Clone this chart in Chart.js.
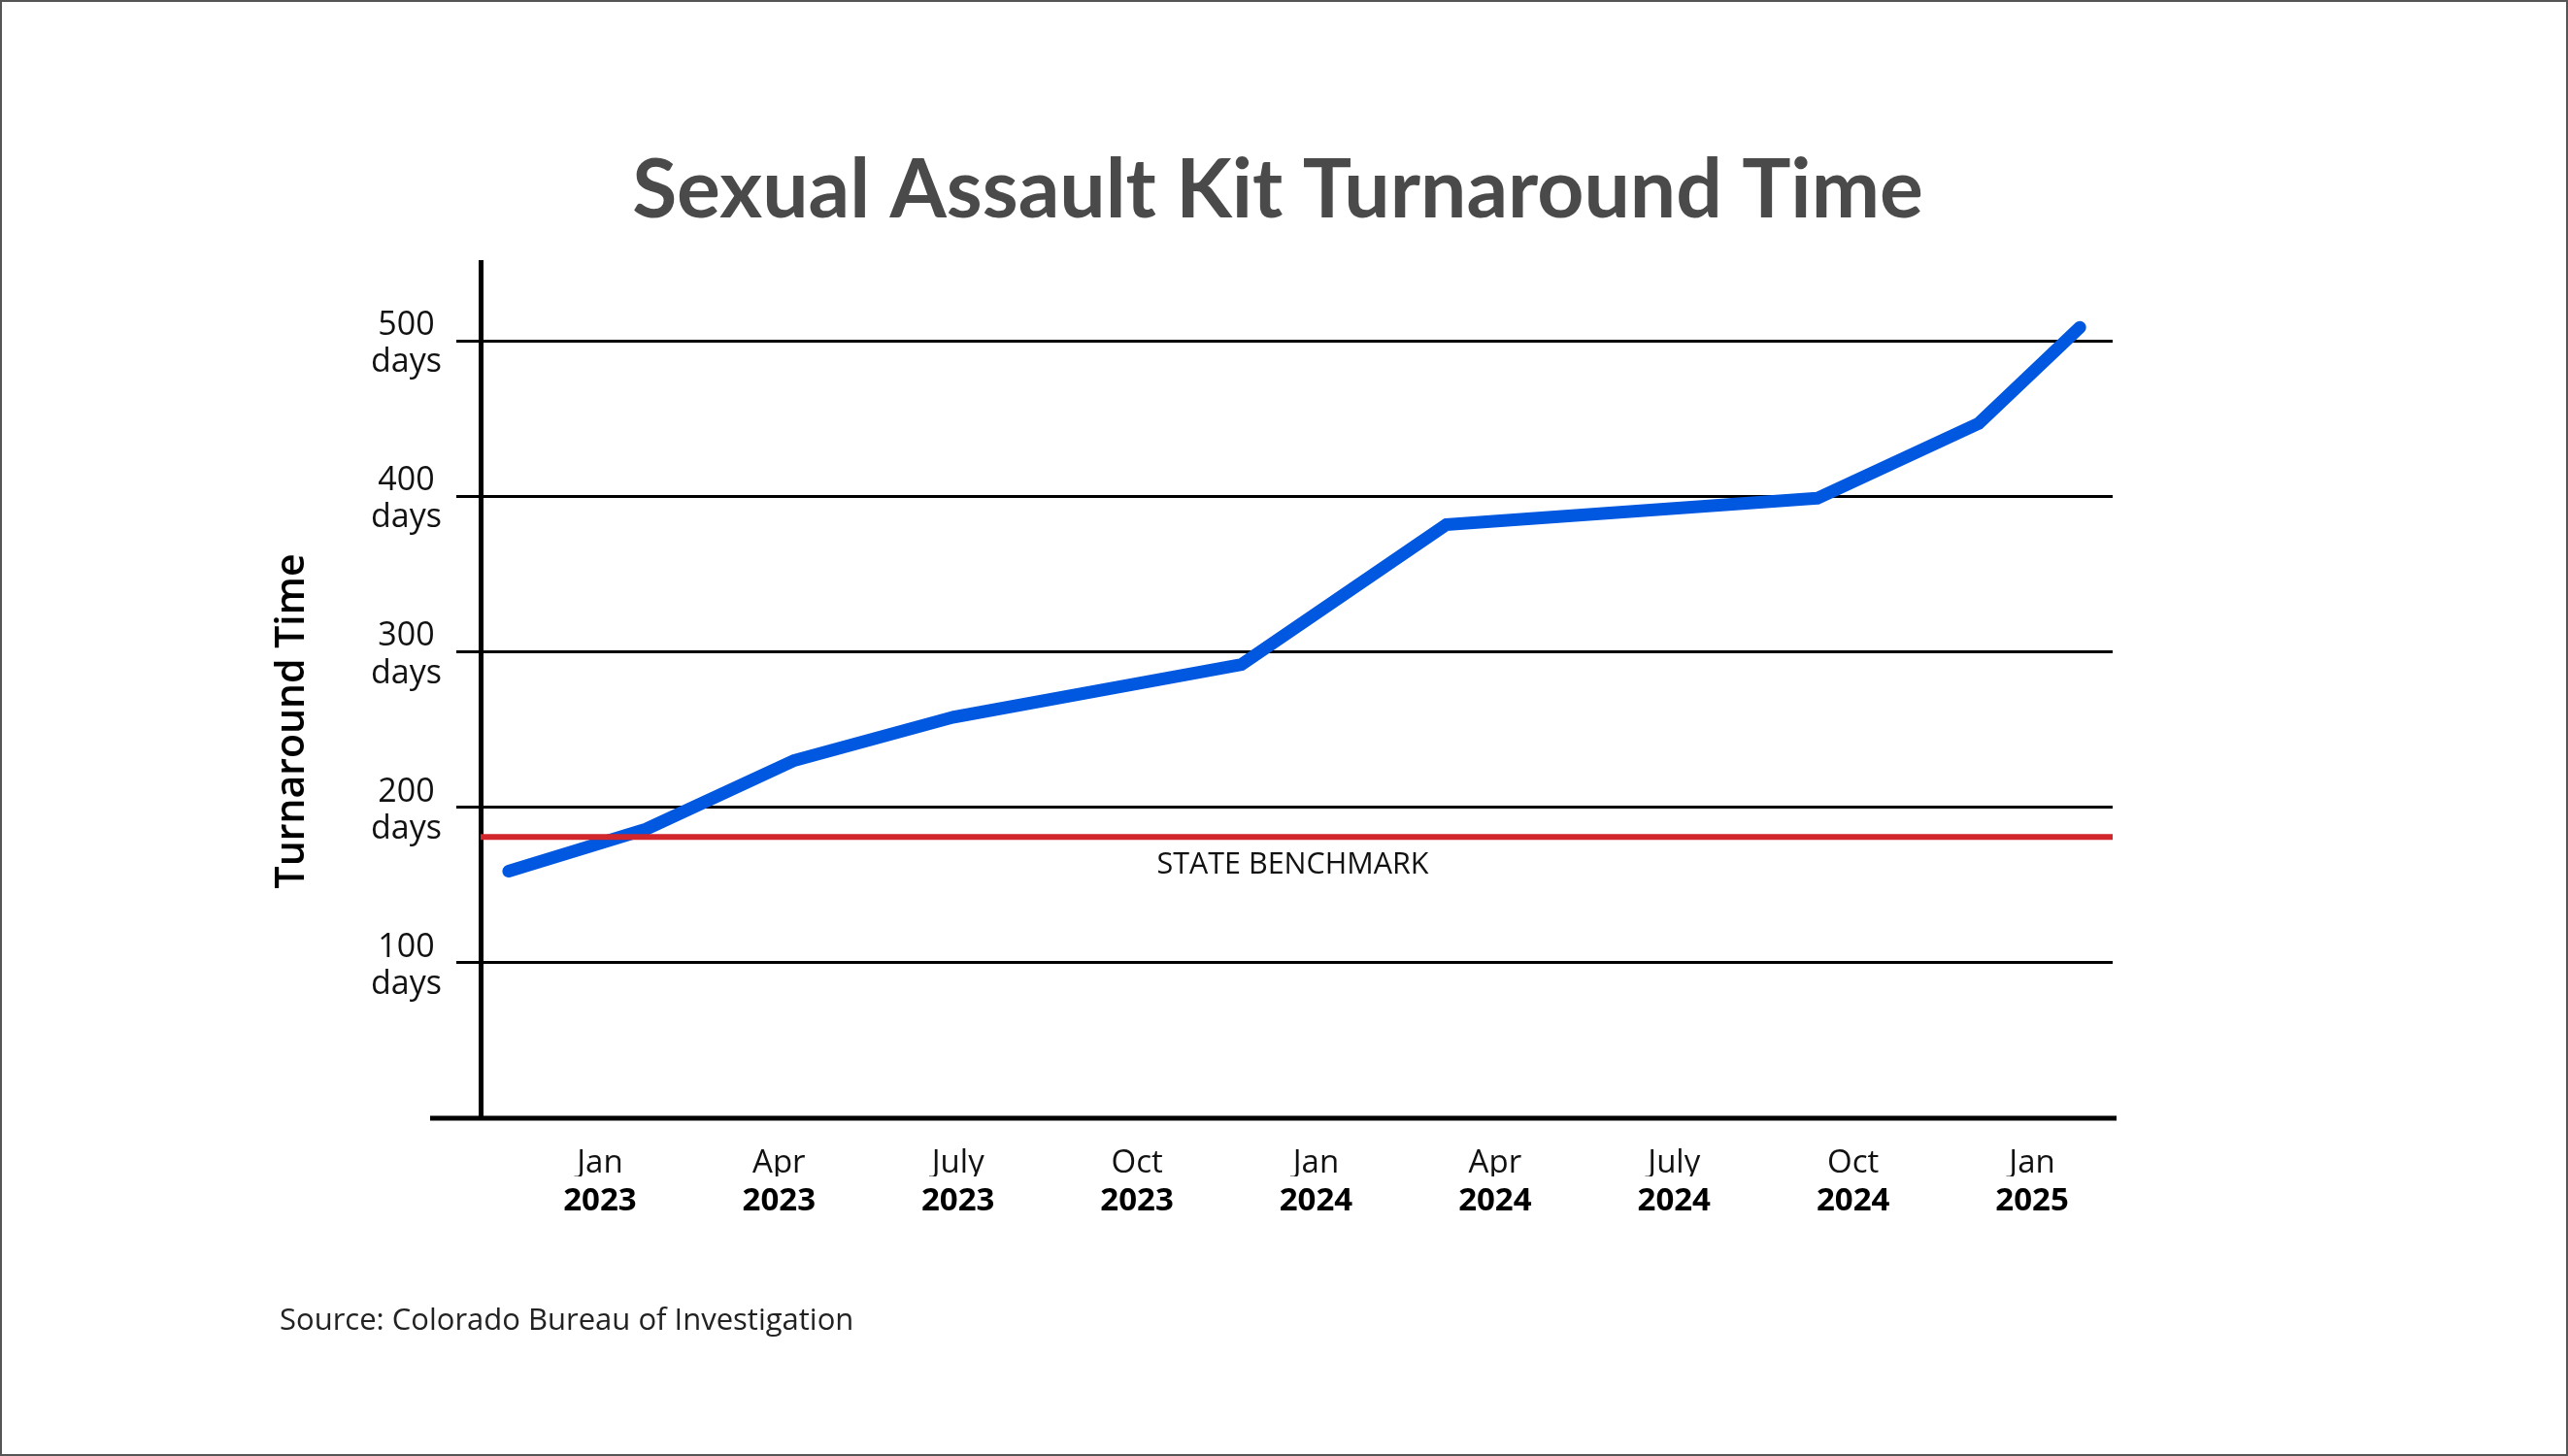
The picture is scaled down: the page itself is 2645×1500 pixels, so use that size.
<!DOCTYPE html>
<html>
<head>
<meta charset="utf-8">
<script src="https://cdn.jsdelivr.net/npm/chart.js@4.4.1/dist/chart.umd.min.js"></script>
<style>
  html, body { margin: 0; padding: 0; background: #ffffff; }
  #wrap { width: 2645px; height: 1500px; }
  canvas { display: block; }
</style>
</head>
<body>
<div id="wrap"><canvas id="c" width="2645" height="1500"></canvas></div>
<script>
// ---- Data (x = months since Jan 2023) ----
const pointMonths = [-1.53, 0.77, 3.24, 5.91, 10.75, 14.18, 20.4, 23.1, 24.8];
const turnaroundDays = [159, 186, 230, 258, 292, 382, 399, 447, 509];
const benchmarkDays = 181;
const tickMonths = [0, 3, 6, 9, 12, 15, 18, 21, 24];
const monthLabels = ['Jan', 'Apr', 'July', 'Oct', 'Jan', 'Apr', 'July', 'Oct', 'Jan'];
const yearLabels = ['2023', '2023', '2023', '2023', '2024', '2024', '2024', '2024', '2025'];
const yTicks = [100, 200, 300, 400, 500];
const xMin = -2, xMax = 25.35, yMin = 0, yMax = 551;

const titleText = 'Sexual Assault Kit Turnaround Time';
const yTitleText = 'Turnaround Time';
const benchmarkText = 'STATE BENCHMARK';
const sourceText = 'Source: Colorado Bureau of Investigation';

const FONT = '"Open Sans", "Noto Sans", sans-serif';

const decorPlugin = {
  id: 'decor',
  afterDraw(chart) {
    const ctx = chart.ctx;
    const x = chart.scales.x, y = chart.scales.y;
    ctx.save();
    // title
    ctx.fillStyle = '#4a4a4a';
    ctx.font = 'bold 84px Lato, "Open Sans", sans-serif';
    ctx.textAlign = 'center';
    ctx.textBaseline = 'middle';
    ctx.fillText(titleText, 1316, 197);
    // x axis line (extends past the y axis)
    ctx.strokeStyle = '#000';
    ctx.lineWidth = 5;
    ctx.beginPath();
    ctx.moveTo(x.left - 52, y.bottom);
    ctx.lineTo(x.right + 4, y.bottom);
    ctx.stroke();
    // benchmark label
    ctx.fillStyle = '#111';
    ctx.font = '30.5px ' + FONT;
    ctx.textAlign = 'center';
    ctx.textBaseline = 'alphabetic';
    ctx.fillText(benchmarkText, (x.left + x.right) / 2 - 4, y.getPixelForValue(benchmarkDays) + 38);
    // y axis title
    ctx.save();
    ctx.translate(301, 743);
    ctx.rotate(-Math.PI / 2);
    ctx.font = '600 41px ' + FONT;
    ctx.fillStyle = '#000';
    ctx.textAlign = 'center';
    ctx.textBaseline = 'middle';
    ctx.fillText(yTitleText, 0, 0);
    ctx.restore();
    // source
    ctx.font = '31px ' + FONT;
    ctx.fillStyle = '#222';
    ctx.textAlign = 'left';
    ctx.textBaseline = 'alphabetic';
    ctx.fillText(sourceText, 288, 1370);
    // frame
    ctx.strokeStyle = '#555';
    ctx.lineWidth = 2;
    ctx.strokeRect(1, 1, chart.width - 2, chart.height - 2);
    ctx.restore();
  }
};

new Chart(document.getElementById('c'), {
  type: 'line',
  data: {
    datasets: [
      {
        label: 'State benchmark',
        data: [{x: xMin, y: benchmarkDays}, {x: xMax, y: benchmarkDays}],
        borderColor: '#d0262c',
        borderWidth: 6,
        pointRadius: 0,
        order: 0
      },
      {
        label: 'Turnaround time',
        data: pointMonths.map((m, i) => ({x: m, y: turnaroundDays[i]})),
        borderColor: '#0057e0',
        borderWidth: 13,
        borderCapStyle: 'round',
        borderJoinStyle: 'round',
        pointRadius: 0,
        tension: 0,
        order: 1
      }
    ]
  },
  options: {
    responsive: false,
    animation: false,
    devicePixelRatio: 1,
    layout: { padding: { left: 0, right: 469, top: 270, bottom: 228 } },
    plugins: {
      legend: { display: false },
      tooltip: { enabled: false },
      title: { display: false }
    },
    scales: {
      x: {
        type: 'linear',
        position: 'bottom',
        weight: 0,
        min: xMin, max: xMax,
        afterBuildTicks: (s) => { s.ticks = tickMonths.map(v => ({value: v})); },
        afterFit: (s) => { s.height = 60; },
        grid: { display: false, drawTicks: false },
        border: { display: false },
        ticks: {
          autoSkip: false, maxRotation: 0, padding: 27,
          color: '#111',
          font: { family: FONT, size: 33, lineHeight: 1.2 },
          callback: (v, i) => monthLabels[i]
        }
      },
      x2: {
        type: 'linear',
        position: 'bottom',
        weight: 1,
        min: xMin, max: xMax,
        afterBuildTicks: (s) => { s.ticks = tickMonths.map(v => ({value: v})); },
        afterFit: (s) => { s.height = 60; },
        grid: { display: false, drawTicks: false },
        border: { display: false },
        ticks: {
          autoSkip: false, maxRotation: 0, padding: 6,
          color: '#000',
          font: { family: FONT, size: 33, weight: 'bold', lineHeight: 1.2 },
          callback: (v, i) => yearLabels[i]
        }
      },
      y: {
        type: 'linear',
        min: yMin, max: yMax,
        afterBuildTicks: (s) => { s.ticks = yTicks.map(v => ({value: v})); },
        afterFit: (s) => { s.width = 495; },
        grid: { color: '#000', lineWidth: 3, drawTicks: true, tickLength: 25, tickColor: '#000', tickWidth: 3 },
        border: { display: true, color: '#000', width: 5 },
        ticks: {
          crossAlign: 'center', padding: 15, labelOffset: 3,
          color: '#111',
          font: { family: FONT, size: 34, lineHeight: 1.12 },
          callback: (v) => [String(v), 'days']
        }
      }
    }
  },
  plugins: [decorPlugin]
});
</script>
</body>
</html>
